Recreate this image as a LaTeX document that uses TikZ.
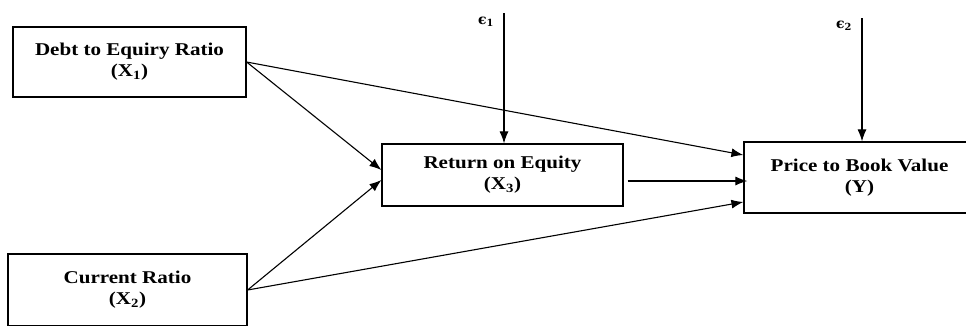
\documentclass[tikz,border=0pt]{standalone}
\usepackage{fontspec}
\setmainfont{Liberation Serif}[FakeStretch=1.17]
\newfontfamily\epsfont{DejaVu Serif}
\usetikzlibrary{arrows.meta,positioning}

\begin{document}
\begin{tikzpicture}[x=1pt,y=1pt,
    box/.style={draw,line width=1.2pt,align=center,inner sep=0pt,
        font=\bfseries\fontsize{18}{21}\selectfont},
    arr/.style={-{Latex[length=12pt,width=9pt]},line width=1.1pt},
    err/.style={font=\epsfont\bfseries\fontsize{14}{14}\selectfont}]
    \useasboundingbox (0,0) rectangle (966,-325);
    \clip (0,0) rectangle (966,-325);

    \node[box,minimum width=233,minimum height=70] (debt) at (129.5,-62)
        {Debt to Equiry Ratio\\(X\textsubscript{1})};
    \node[box,minimum width=239,minimum height=72] (current) at (127.5,-290)
        {Current Ratio\\(X\textsubscript{2})};
    \node[box,minimum width=241,minimum height=62] (roe) at (502.5,-175)
        {Return on Equity\\(X\textsubscript{3})};
    \node[box,minimum width=231,minimum height=71] (pbv) at (859.5,-177.5)
        {Price to Book Value\\(Y)};

    % error terms
    \coordinate (e1) at (504,-13);
    \coordinate (e2) at (862,-18);
    \node[err] (e1lab) at (486,-22) {ϵ\textsubscript{1}};
    \node[err] (e2lab) at (844,-26) {ϵ\textsubscript{2}};
    \draw[arr] (e1) -- (e1 |- roe.north);
    \draw[arr] (e2) -- (e2 |- pbv.north);

    \draw[arr] (debt.east) -- ([yshift=5pt]roe.west);
    \draw[arr] (current.east) -- ([yshift=-5pt]roe.west);
    \draw[arr] (debt.east) -- ([yshift=22.5pt]pbv.west);
    \draw[arr] ([xshift=4pt,yshift=-6pt]roe.east) -- ([xshift=4pt,yshift=-6pt]roe.east -| pbv.west);
    \draw[arr] (current.east) -- ([yshift=-24.5pt]pbv.west);
\end{tikzpicture}
\end{document}
